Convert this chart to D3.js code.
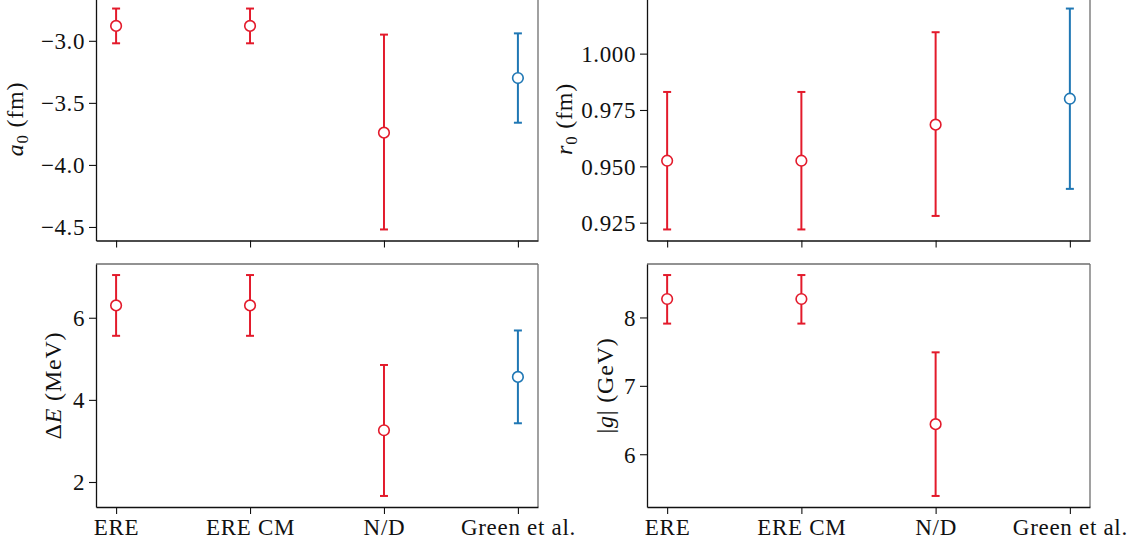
<!DOCTYPE html>
<html>
<head>
<meta charset="utf-8">
<script src="https://cdn.jsdelivr.net/npm/d3@7/dist/d3.min.js"></script>
<style>
  html, body { margin: 0; padding: 0; background: #fff; }
  svg { display: block; }
  text { font-family: "Liberation Serif", "DejaVu Serif", serif; fill: #111; }
</style>
</head>
<body>
<svg id="chart" width="1134" height="550"></svg>
<script>
// ---- data ----
const categories = ["ERE", "ERE CM", "N/D", "Green et al."];
const pointColors = ["#e31a2b", "#e31a2b", "#e31a2b", "#1f77b4"];

const a0Values  = [-2.88, -2.88, -3.74, -3.30];
const a0ErrLow  = [0.14, 0.14, 0.78, 0.36];
const a0ErrHigh = [0.14, 0.14, 0.79, 0.36];
const a0Ticks   = [-3.0, -3.5, -4.0, -4.5];

const r0Values  = [0.9525, 0.9525, 0.9685, 0.980];
const r0ErrLow  = [0.0305, 0.0305, 0.0405, 0.040];
const r0ErrHigh = [0.0305, 0.0305, 0.0410, 0.040];
const r0Ticks   = [0.925, 0.950, 0.975, 1.000];

const dEValues  = [6.30, 6.30, 3.26, 4.56];
const dEErrLow  = [0.74, 0.74, 1.60, 1.13];
const dEErrHigh = [0.74, 0.74, 1.59, 1.13];
const dETicks   = [2, 4, 6];

const gValues   = [8.27, 8.27, 6.44, null];
const gErrLow   = [0.36, 0.36, 1.05, null];
const gErrHigh  = [0.35, 0.35, 1.05, null];
const gTicks    = [6, 7, 8];

// ---- layout ----
const svg = d3.select("#chart");
const FS = 23;
const LFS = 24;
const FONT = "'Liberation Serif', serif";
const colL = [96, 538], colR = [647, 1090];
const rowT = [-2.5, 240.5], rowB = [264, 507];

function fmtMinus(s) { return s.replace("-", "\u2212"); }

const panels = [
  { x: colL, y: rowT, vals: a0Values, lo: a0ErrLow, hi: a0ErrHigh, ticks: a0Ticks,
    fmt: v => fmtMinus(d3.format(".1f")(v)), label: [["a", "italic"], ["0", "sub"], [" (fm)", "after"]], labelX: 23, showX: false },
  { x: colR, y: rowT, vals: r0Values, lo: r0ErrLow, hi: r0ErrHigh, ticks: r0Ticks,
    fmt: d3.format(".3f"), label: [["r", "italic"], ["0", "sub"], [" (fm)", "after"]], labelX: 572, showX: false },
  { x: colL, y: rowB, vals: dEValues, lo: dEErrLow, hi: dEErrHigh, ticks: dETicks,
    fmt: d3.format("d"), label: [["\u0394", ""], ["E", "italic"], [" (MeV)", ""]], labelX: 61, showX: true },
  { x: colR, y: rowB, vals: gValues, lo: gErrLow, hi: gErrHigh, ticks: gTicks,
    fmt: d3.format("d"), label: [["|", ""], ["g", "italic"], ["| (GeV)", ""]], labelX: 613, showX: true }
];

panels.forEach(p => {
  const idx = d3.range(categories.length);
  const x = d3.scaleLinear().domain([-0.15, categories.length - 1 + 0.15]).range(p.x);

  const pts = idx.filter(i => p.vals[i] != null).map(i => ({
    i, v: p.vals[i], lo: p.vals[i] - p.lo[i], hi: p.vals[i] + p.hi[i], c: pointColors[i]
  }));
  const mn = d3.min(pts, d => d.lo), mx = d3.max(pts, d => d.hi);
  const pad = (mx - mn) * 0.05;
  const y = d3.scaleLinear().domain([mn - pad, mx + pad]).range([p.y[1], p.y[0]]);

  const g = svg.append("g");

  // spines (top/right grey)
  g.append("line").attr("x1", p.x[0]).attr("x2", p.x[1]).attr("y1", p.y[0]).attr("y2", p.y[0])
    .attr("stroke", "#6e6e6e").attr("stroke-width", 1.3);
  g.append("line").attr("x1", p.x[1]).attr("x2", p.x[1]).attr("y1", p.y[0]).attr("y2", p.y[1])
    .attr("stroke", "#6e6e6e").attr("stroke-width", 1.3);

  // y axis
  const yAxis = d3.axisLeft(y).tickValues(p.ticks).tickFormat(p.fmt).tickSizeOuter(0).tickSizeInner(7).tickPadding(4);
  const ya = g.append("g").attr("transform", `translate(${p.x[0]},0)`).call(yAxis);
  ya.attr("font-family", null).attr("font-size", null);
  ya.select(".domain").attr("stroke", "#111").attr("stroke-width", 1.3);
  ya.selectAll(".tick line").attr("stroke", "#111").attr("stroke-width", 1.1);
  ya.selectAll(".tick text").style("font-family", FONT).style("font-size", FS + "px")
    .style("letter-spacing", "0.6px").attr("fill", "#222").attr("dy", "0.34em");

  // x axis
  const xAxis = d3.axisBottom(x).tickValues(idx).tickFormat(i => p.showX ? categories[i] : "")
    .tickSizeOuter(0).tickSizeInner(7).tickPadding(5);
  const xa = g.append("g").attr("transform", `translate(0,${p.y[1]})`).call(xAxis);
  xa.attr("font-family", null).attr("font-size", null);
  xa.select(".domain").attr("stroke", "#111").attr("stroke-width", 1.3);
  xa.selectAll(".tick line").attr("stroke", "#111").attr("stroke-width", 1.1);
  xa.selectAll(".tick text").style("font-family", FONT).style("font-size", FS + "px")
    .style("letter-spacing", "0.7px").attr("fill", "#222");

  // error bars
  const eb = g.append("g").selectAll("g").data(pts).join("g");
  eb.append("line").attr("x1", d => x(d.i)).attr("x2", d => x(d.i))
    .attr("y1", d => y(d.lo)).attr("y2", d => y(d.hi))
    .attr("stroke", d => d.c).attr("stroke-width", 2);
  eb.append("line").attr("x1", d => x(d.i) - 4).attr("x2", d => x(d.i) + 4)
    .attr("y1", d => y(d.lo)).attr("y2", d => y(d.lo))
    .attr("stroke", d => d.c).attr("stroke-width", 2);
  eb.append("line").attr("x1", d => x(d.i) - 4).attr("x2", d => x(d.i) + 4)
    .attr("y1", d => y(d.hi)).attr("y2", d => y(d.hi))
    .attr("stroke", d => d.c).attr("stroke-width", 2);
  eb.append("circle").attr("cx", d => x(d.i)).attr("cy", d => y(d.v)).attr("r", 5.3)
    .attr("fill", "#fff").attr("stroke", d => d.c).attr("stroke-width", 1.6);

  // y label (baseline anchored)
  const cy = (p.y[0] + p.y[1]) / 2;
  const t = g.append("text").attr("transform", `translate(${p.labelX},${cy}) rotate(-90)`)
    .attr("text-anchor", "middle")
    .style("font-family", FONT).style("font-size", LFS + "px").style("letter-spacing", "0.8px").attr("fill", "#222");
  p.label.forEach(([s, kind]) => {
    const ts = t.append("tspan").text(s);
    if (kind === "italic") ts.style("font-style", "italic");
    if (kind === "sub") ts.style("font-size", (LFS * 0.7) + "px").attr("dy", "0.3em");
    if (kind === "after") ts.attr("dy", "-0.21em");
  });
});
</script>
</body>
</html>
